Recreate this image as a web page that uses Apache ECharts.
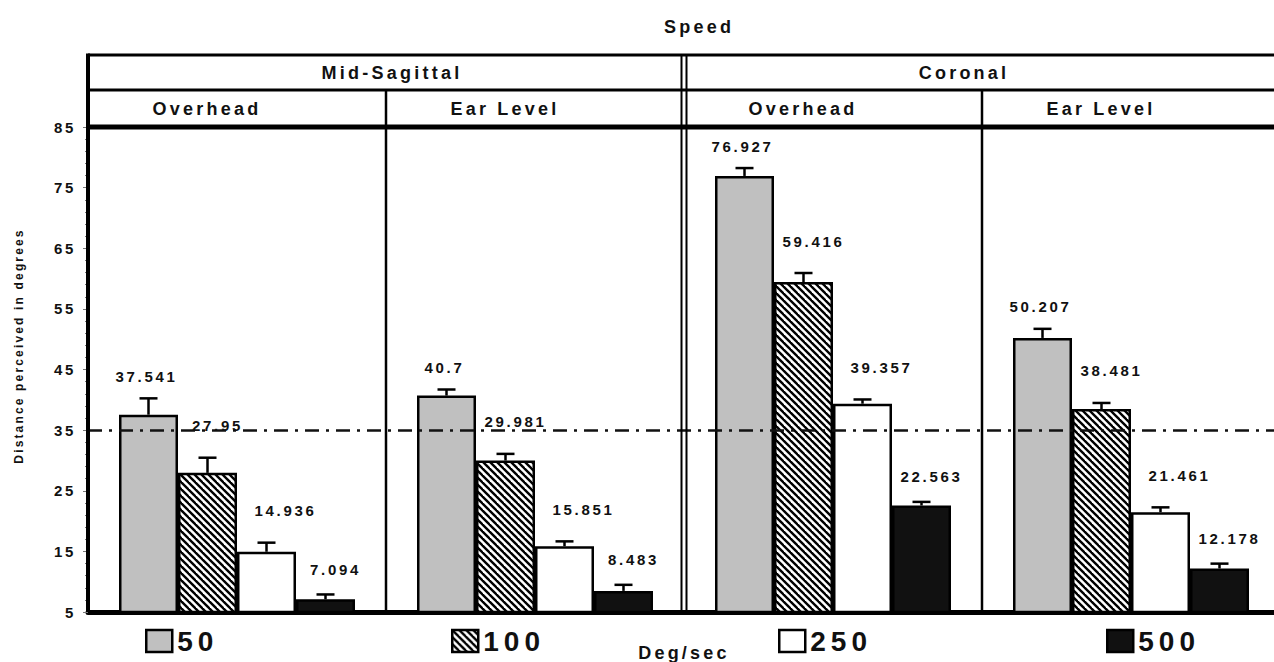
<!DOCTYPE html>
<html><head><meta charset="utf-8">
<script src="https://cdn.jsdelivr.net/npm/echarts@6/dist/echarts.min.js"></script>
<style>
html,body{margin:0;padding:0;background:#fff;}
#chart{width:1274px;height:662px;}
#chart text{letter-spacing:0.18em;}
</style></head><body><div id="chart"></div>
<script>
// ---- data ----
const categories = ['Mid-Sagittal Overhead', 'Mid-Sagittal Ear Level', 'Coronal Overhead', 'Coronal Ear Level'];
const planeLabels = ['Mid-Sagittal', 'Coronal'];
const positionLabels = ['Overhead', 'Ear Level', 'Overhead', 'Ear Level'];
const speedNames = ['50', '100', '250', '500'];
const speed50  = [37.541, 40.7, 76.927, 50.207];
const speed100 = [27.95, 29.981, 59.416, 38.481];
const speed250 = [14.936, 15.851, 39.357, 21.461];
const speed500 = [7.094, 8.483, 22.563, 12.178];
const err50  = [2.7, 1.0, 1.3, 1.5];
const err100 = [2.5, 1.1, 1.5, 1.0];
const err250 = [1.5, 0.8, 0.7, 0.8];
const err500 = [0.8, 1.0, 0.6, 0.8];
const yMin = 5, yMax = 85, yInterval = 10;
const referenceValue = 35;

// ---- styles ----
const FONT = "'Liberation Sans', Arial, sans-serif";
const BAR_W = 59, CAP = 18;
const GRID = {left: 88, right: -6, top: 127, bottom: 50, outerBoundsMode: 'none', containLabel: false};

function hatchPattern() {
  const s = 7, c = document.createElement('canvas');
  c.width = s; c.height = s;
  const ctx = c.getContext('2d');
  ctx.fillStyle = '#fff'; ctx.fillRect(0, 0, s, s);
  ctx.strokeStyle = '#000'; ctx.lineWidth = 2.4;
  for (let k = -1; k <= 1; k++) {
    ctx.beginPath(); ctx.moveTo(k * s - 1, -1); ctx.lineTo(k * s + s + 1, s + 1); ctx.stroke();
  }
  return {image: c, repeat: 'repeat', imageWidth: s, imageHeight: s};
}
const fills = ['#c0c0c0', hatchPattern(), '#ffffff', '#111111'];
const values = [speed50, speed100, speed250, speed500];
const errors = [err50, err100, err250, err500];
const labelNudge = [[-2, 22], [10, 32], [19, 32], [10, 25]]; // per-series label dx, dy above cap
const legendLeft = [145, 451, 778, 1106];

const chart = echarts.init(document.getElementById('chart'), null, {renderer: 'svg'});

function errRender(k) {
  return function (params, api) {
    const cat = api.value(0), v = api.value(1), e = api.value(2);
    const base = api.coord([cat, v]);
    const top = api.coord([cat, v + e]);
    const x = base[0] + (k - 1.5) * BAR_W;
    const st = {stroke: '#000', lineWidth: 2.5};
    return {type: 'group', children: [
      {type: 'line', shape: {x1: x, y1: base[1], x2: x, y2: top[1]}, style: st},
      {type: 'line', shape: {x1: x - CAP / 2, y1: top[1], x2: x + CAP / 2, y2: top[1]}, style: st},
      {type: 'text', x: x + labelNudge[k][0], y: top[1] - labelNudge[k][1],
        style: {text: String(v), fill: '#111', font: "bold 15px " + FONT, textAlign: 'center', textVerticalAlign: 'middle'}}
    ]};
  };
}

const series = [];
speedNames.forEach((n, k) => {
  series.push({
    name: n, type: 'bar', barWidth: BAR_W, barGap: '0%',
    data: values[k],
    itemStyle: {color: fills[k], borderColor: '#000', borderWidth: 2.5},
    z: 2
  });
});
speedNames.forEach((n, k) => {
  series.push({
    type: 'custom', renderItem: errRender(k), z: 5,
    data: values[k].map((v, i) => [i, v, errors[k][i]]),
    encode: {x: 0, y: 1},
    silent: true,
    markLine: k === 0 ? {
      silent: true, symbol: ['none', 'none'], label: {show: false},
      lineStyle: {color: '#111', width: 2.5, type: [14, 7, 3, 7]},
      data: [{yAxis: referenceValue}]
    } : undefined
  });
});

chart.setOption({
  animation: false,
  backgroundColor: '#fff',
  textStyle: {fontFamily: FONT},
  title: {text: 'Speed', left: 664, top: 18, padding: 0,
    textStyle: {fontSize: 18, fontWeight: 'bold', color: '#111', fontFamily: FONT}},
  grid: GRID,
  legend: speedNames.map((n, i) => ({
    data: [n], left: legendLeft[i], top: 627, padding: 0, itemGap: 0,
    itemWidth: 26, itemHeight: 22, selectedMode: false, icon: 'rect',
    itemStyle: {borderColor: '#000', borderWidth: 2.5},
    textStyle: {fontSize: 28, fontWeight: 'bold', color: '#111', fontFamily: FONT}
  })),
  xAxis: {
    type: 'category', data: categories,
    name: 'Deg/sec', nameLocation: 'middle', nameGap: 32,
    nameTextStyle: {fontSize: 18, fontWeight: 'bold', color: '#111', fontFamily: FONT},
    axisLine: {lineStyle: {color: '#000', width: 5}},
    axisTick: {show: false}, axisLabel: {show: false}
  },
  yAxis: {
    type: 'value', min: yMin, max: yMax, interval: yInterval,
    axisLine: {show: true, lineStyle: {color: '#000', width: 4}},
    axisTick: {show: true, length: 5, lineStyle: {color: '#777', width: 1}},
    minorTick: {show: true, splitNumber: 5, length: 3, lineStyle: {color: '#777'}},
    splitLine: {show: false},
    axisLabel: {margin: 12, fontSize: 15, fontWeight: 'bold', color: '#111', fontFamily: FONT}
  },
  series: series
});

// ---- header table and dividers ----
const y0 = chart.convertToPixel({yAxisIndex: 0}, yMin);
const yTop = chart.convertToPixel({yAxisIndex: 0}, yMax);
const centers = categories.map((c, i) => chart.convertToPixel({xAxisIndex: 0}, i));
const catW = centers[1] - centers[0];
const bounds = [centers[0] - catW / 2];
centers.forEach(c => bounds.push(c + catW / 2));
const W = 1274;
const rowTop = yTop - 72, rowMid = yTop - 37;
const g = [];
function line(x1, y1, x2, y2, w) {
  g.push({type: 'line', shape: {x1, y1, x2, y2}, style: {stroke: '#000', lineWidth: w}, z: 10});
}
function text(t, x, y) {
  g.push({type: 'text', x, y, z: 10, style: {text: t, fill: '#111', font: 'bold 18px ' + FONT,
    textAlign: 'center', textVerticalAlign: 'middle'}});
}
line(bounds[0], rowTop, W, rowTop, 3);
line(bounds[0], rowMid, W, rowMid, 3);
line(bounds[0], yTop, W, yTop, 5);
line(bounds[0], rowTop - 1.5, bounds[0], y0, 4);
line(bounds[1], rowMid, bounds[1], y0, 2.5);
line(bounds[3], rowMid, bounds[3], y0, 2.5);
line(bounds[2] - 2.5, rowTop, bounds[2] - 2.5, y0, 2);
line(bounds[2] + 2.5, rowTop, bounds[2] + 2.5, y0, 2);
text(planeLabels[0], (bounds[0] + bounds[2]) / 2 + 6, (rowTop + rowMid) / 2);
text(planeLabels[1], (bounds[2] + W) / 2 - 15, (rowTop + rowMid) / 2);
positionLabels.forEach((t, i) => text(t, centers[i] - 30, (rowMid + yTop) / 2));
g.push({type: 'text', x: 19, y: 346, rotation: Math.PI / 2, z: 10,
  style: {text: 'Distance perceived in degrees', fill: '#111', font: 'bold 12px ' + FONT,
    textAlign: 'center', textVerticalAlign: 'middle'}});
chart.setOption({graphic: g});
</script></body></html>
